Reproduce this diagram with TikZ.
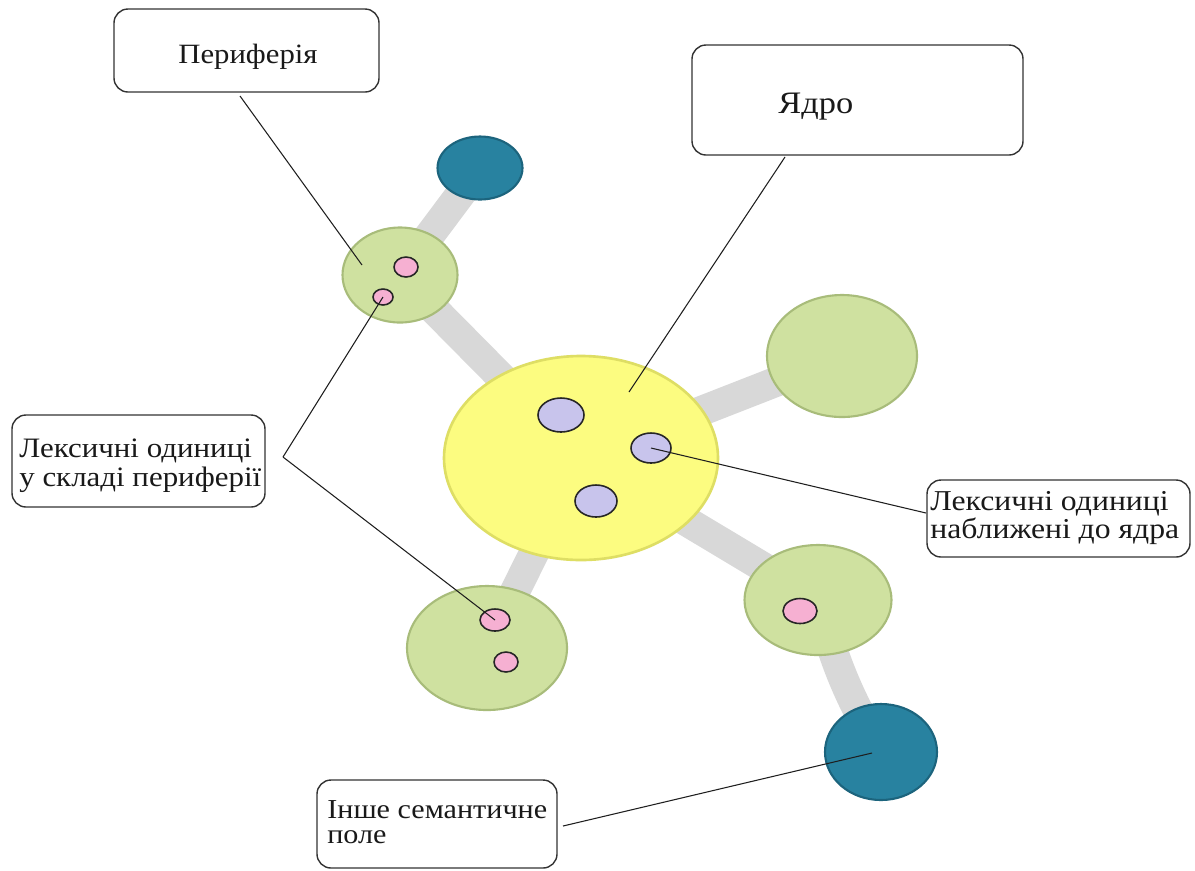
\documentclass[tikz,border=0pt]{standalone}
\usepackage{fontspec}
\setmainfont{Liberation Serif}
\newfontfamily\widefont[FakeStretch=1.1]{Liberation Serif}
\usetikzlibrary{shapes.geometric}
\pgfdeclarelayer{bg}
\pgfsetlayers{bg,main}
\definecolor{cgreen}{RGB}{207,225,160}
\definecolor{cgreenrim}{RGB}{168,188,122}
\definecolor{cteal}{RGB}{40,130,160}
\definecolor{ctealrim}{RGB}{28,100,125}
\definecolor{cyellow}{RGB}{252,252,128}
\definecolor{cyellowrim}{RGB}{222,222,100}
\definecolor{clav}{RGB}{200,196,236}
\definecolor{cpink}{RGB}{246,176,210}
\definecolor{cbar}{RGB}{216,216,216}
\definecolor{cline}{RGB}{30,30,30}
\begin{document}
\begin{tikzpicture}[x=0.02cm,y=-0.02cm,
  ell/.style 2 args={ellipse, minimum width=#1*0.02cm, minimum height=#2*0.02cm, inner sep=0pt},
  greenball/.style={fill=cgreen, draw=cgreenrim, line width=1.2pt},
  tealball/.style={fill=cteal, draw=ctealrim, line width=1.2pt},
  coreball/.style={fill=cyellow, draw=cyellowrim, line width=1.5pt},
  lavdot/.style={fill=clav, draw=black!85, line width=0.9pt},
  pinkdot/.style={fill=cpink, draw=black!85, line width=0.9pt},
  bar/.style={draw=cbar, line width=30*0.02cm},
  callbox/.style 2 args={draw=black!80, fill=white, rounded corners=14*0.02cm, line width=0.8pt, inner sep=0pt, minimum width=#1*0.02cm, minimum height=#2*0.02cm},
  lbl/.style={inner sep=0pt, text=black!90},
  pointer/.style={draw=cline, line width=0.6pt}
]
\useasboundingbox (0,0) rectangle (1195,870);
\begin{pgfonlayer}{bg}
\fill[white] (0,0) rectangle (1195,870);
\end{pgfonlayer}

% balls
\node[ell={274}{204}, coreball] (core) at (581,458) {};
\node[ell={115}{95}, greenball] (gTL) at (400,275) {};
\node[ell={85}{63}, tealball] (tTop) at (480,168) {};
\node[ell={150}{122}, greenball] (gR) at (842,356) {};
\node[ell={160}{124}, greenball] (gBL) at (487,648) {};
\node[ell={147}{110}, greenball] (gBR) at (818,600) {};
\node[ell={112}{96}, tealball] (tBR) at (881,752) {};

% bars
\begin{pgfonlayer}{bg}
\draw[bar] (tTop.center) -- (gTL.center);
\draw[bar] (gTL.center) -- (core.center);
\draw[bar] (core.center) -- (gR.center);
\draw[bar] (core.center) -- (gBL.center);
\draw[bar] (core.center) -- (gBR.center);
\draw[bar] (gBR.center) to[bend right=8] (tBR.center);
\end{pgfonlayer}

% small units
\node[ell={24}{20}, pinkdot] (p1) at (406,267) {};
\node[ell={20}{16}, pinkdot] (p2) at (383,297) {};
\node[ell={30}{22}, pinkdot] (p3) at (495,620) {};
\node[ell={24}{20}, pinkdot] (p4) at (506,662) {};
\node[ell={34}{25}, pinkdot] (p5) at (800,611) {};
\node[ell={46}{34}, lavdot] (l1) at (561,415) {};
\node[ell={40}{30}, lavdot] (l2) at (651,448) {};
\node[ell={42}{32}, lavdot] (l3) at (596,501) {};

% boxes
\node[callbox={265}{83}] (pbox) at (246.5,50.5) {};
\node[lbl, anchor=base west, font=\widefont\fontsize{15.9}{18}\selectfont] (ptext) at (178,63) {Периферія};

\node[callbox={331}{110}] (ybox) at (857.5,100) {};
\node[lbl, anchor=base west, font=\widefont\fontsize{17.8}{20}\selectfont] (ytext) at (778,113) {Ядро};

\node[callbox={253}{92}] (lbox) at (138.5,461) {};
\node[lbl, anchor=base west, align=left, font=\widefont\fontsize{16}{16.5}\selectfont] (ltext) at (19,486) {Лексичні одиниці\\у складі периферії};

\node[callbox={263}{77}] (nbox) at (1058.5,518.5) {};
\node[lbl, anchor=base west, align=left, font=\widefont\fontsize{16.4}{14.8}\selectfont] (ntext) at (930,538) {Лексичні одиниці\\наближені до ядра};

\node[callbox={240}{88}] (ibox) at (437,824) {};
\node[lbl, anchor=base west, align=left, font=\widefont\fontsize{15.6}{14.2}\selectfont] (itext) at (327,843) {Інше семантичне\\поле};

% pointer ends
\coordinate (pStart) at (240,96);
\coordinate (pEnd) at (362,265);
\coordinate (yStart) at (785,157);
\coordinate (yEnd) at (629,392);
\coordinate (apex) at (283,457);
\coordinate (nEnd) at (926,513);
\coordinate (iStart) at (563,826);
\coordinate (iEnd) at (872,753);

\draw[pointer] (pStart) -- (pEnd);
\draw[pointer] (yStart) -- (yEnd);
\draw[pointer] (apex) -- (p2.center);
\draw[pointer] (apex) -- (p3.center);
\draw[pointer] (l2.center) -- (nEnd);
\draw[pointer] (iStart) -- (iEnd);
\end{tikzpicture}
\end{document}
